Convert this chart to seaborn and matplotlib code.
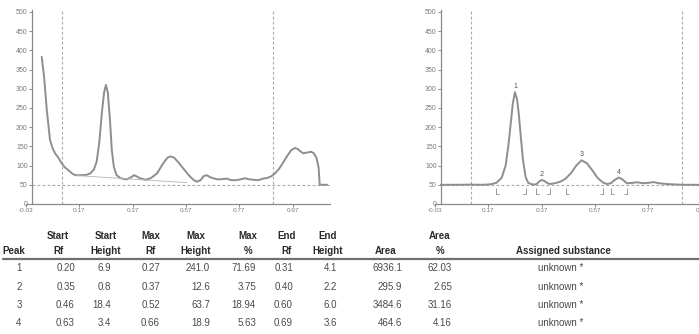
import matplotlib
matplotlib.use("Agg")
import matplotlib.pyplot as plt
import seaborn as sns
from matplotlib.path import Path

# ---- densitogram of the track as scanned (Rf vs. AU) ----
raw_rf = [0.029, 0.038, 0.048, 0.060, 0.070, 0.079, 0.090, 0.104, 0.115, 0.129,
          0.142, 0.154, 0.175, 0.197, 0.212, 0.225, 0.235, 0.245, 0.255, 0.263,
          0.270, 0.277, 0.285, 0.292, 0.300, 0.310, 0.325, 0.348, 0.365, 0.375,
          0.385, 0.398, 0.420, 0.440, 0.462, 0.485, 0.500, 0.511, 0.525, 0.540,
          0.555, 0.570, 0.586, 0.600, 0.611, 0.625, 0.637, 0.649, 0.660, 0.673,
          0.690, 0.710, 0.725, 0.740, 0.760, 0.780, 0.792, 0.810, 0.825, 0.840,
          0.860, 0.876, 0.890, 0.905, 0.920, 0.935, 0.950, 0.965, 0.980, 0.990,
          1.000, 1.010, 1.025, 1.040, 1.050, 1.060, 1.068, 1.072, 1.100]
raw_au = [383, 330, 245, 167, 145, 132, 122, 106, 96, 88,
          80, 75, 75, 76, 80, 90, 110, 160, 240, 290,
          310, 290, 220, 140, 95, 75, 67, 64, 70, 75,
          72, 67, 63, 68, 80, 106, 120, 124, 121, 110,
          97, 84, 71, 62, 58, 62, 73, 75, 70, 67,
          64, 65, 66, 62, 62, 65, 67, 64, 63, 62,
          66, 68, 72, 80, 92, 108, 125, 140, 146, 143,
          137, 132, 134, 136, 132, 120, 95, 50, 50]

# baseline drawn under the main peaks of the raw scan
baseline_rf = [0.16, 0.573]
baseline_au = [74, 55.5]

# ---- baseline-corrected densitogram ----
corr_rf = [-0.008, 0.05, 0.10, 0.15, 0.18, 0.20, 0.22, 0.235, 0.245, 0.255,
           0.262, 0.27, 0.278, 0.285, 0.292, 0.30, 0.31, 0.32, 0.335, 0.35,
           0.36, 0.37, 0.38, 0.39, 0.40, 0.42, 0.44, 0.46, 0.48, 0.50,
           0.52, 0.54, 0.56, 0.58, 0.60, 0.615, 0.63, 0.645, 0.66, 0.675,
           0.69, 0.71, 0.73, 0.75, 0.77, 0.79, 0.81, 0.84, 0.87, 0.90, 1.11]
corr_au = [50, 50, 50.5, 50, 51.5, 55, 68, 100, 150, 215,
           262, 291.0, 272, 230, 175, 115, 70, 55, 51, 51,
           58, 62.6, 60, 55, 52, 54, 58, 66, 80, 100,
           113.7, 106, 88, 68, 56, 52, 54, 63, 68.9, 63,
           54, 55, 56.5, 54, 55, 57, 54, 52, 51, 50, 50]

# ---- peak table ----
peak_no = [1, 2, 3, 4]
start_rf = [0.20, 0.35, 0.46, 0.63]
start_height = [6.9, 0.8, 18.4, 3.4]
max_rf = [0.27, 0.37, 0.52, 0.66]
max_height = [241.0, 12.6, 63.7, 18.9]
max_pct = [71.69, 3.75, 18.94, 5.63]
end_rf = [0.31, 0.40, 0.60, 0.69]
end_height = [4.1, 2.2, 6.0, 3.6]
area = [6936.1, 295.9, 3484.6, 464.6]
area_pct = [62.03, 2.65, 31.16, 4.16]
substance = ["unknown *", "unknown *", "unknown *", "unknown *"]

header_top = ["", "Start", "Start", "Max", "Max", "Max", "End", "End", "", "Area", ""]
header_bottom = ["Peak", "Rf", "Height", "Rf", "Height", "%", "Rf", "Height",
                 "Area", "%", "Assigned substance"]

x_ticks = [-0.03, 0.17, 0.37, 0.57, 0.77, 0.97]
y_ticks = [0, 50, 100, 150, 200, 250, 300, 350, 400, 450, 500]
track_marks = [0.105, 0.895]   # application position and solvent front
base_level = 50

# ---------------------------------------------------------------------------
sns.set_theme(style="white")
plt.rcParams["font.family"] = ["Liberation Sans", "DejaVu Sans"]

W, H = 699, 334
fig = plt.figure(figsize=(W / 100, H / 100), dpi=100)
fig.patch.set_facecolor("white")

curve_col = "#8e8e8e"
dash_col = "#a8a8a8"
axis_col = "#8a8a8a"
tick_col = "#7a7a7a"

X_MIN, X_MAX = -0.03, 1.11
Y_MAX = 505


def make_axes(left_px):
    width_px = (X_MAX - X_MIN) * 266.5
    ax = fig.add_axes([left_px / W, (H - 204) / H, width_px / W, 194 / H])
    ax.set_xlim(X_MIN, X_MAX)
    ax.set_ylim(0, Y_MAX)
    for side in ("top", "right"):
        ax.spines[side].set_visible(False)
    ax.spines["left"].set_position(("data", -0.008))
    for side in ("left", "bottom"):
        ax.spines[side].set_color(axis_col)
        ax.spines[side].set_linewidth(0.9)
    ax.set_xticks(x_ticks)
    ax.set_xticklabels([f"{t:.2f}" for t in x_ticks])
    ax.set_yticks(y_ticks)
    ax.set_yticklabels([str(t) for t in y_ticks])
    ax.tick_params(axis="both", which="major", colors=tick_col,
                   length=2, width=0.6, pad=1, direction="out",
                   bottom=True, left=True)
    ax.tick_params(axis="x", labelsize=4.6)
    ax.tick_params(axis="y", labelsize=5)
    ax.grid(False)
    ax.set_facecolor("none")
    ax.patch.set_alpha(0)
    for xm in track_marks:
        ax.axvline(xm, ymin=0, ymax=1, color=dash_col, lw=0.8, ls=(0, (2.5, 2)))
    ax.axhline(base_level, xmin=0.02, xmax=1, color=dash_col, lw=0.8,
               ls=(0, (2.5, 2)))
    ax.set_xlabel("")
    ax.set_ylabel("")
    return ax


# left: scanned track
ax1 = make_axes(26)
sns.lineplot(x=raw_rf, y=raw_au, ax=ax1, color=curve_col, lw=1.4,
             estimator=None, sort=False)
sns.lineplot(x=baseline_rf, y=baseline_au, ax=ax1, color="#b5b5b5", lw=0.6,
             estimator=None, sort=False)

# right: baseline-corrected track with integrated peaks
ax2 = make_axes(435)
sns.lineplot(x=corr_rf, y=corr_au, ax=ax2, color=curve_col, lw=1.4,
             estimator=None, sort=False)

for n, rf, h in zip(peak_no, max_rf, max_height):
    ax2.text(rf, base_level + h + 5, str(n), ha="center", va="bottom",
             fontsize=5, color="#555555")

start_marker = Path([(0, 1), (0, -1), (0.8, -1)],
                    [Path.MOVETO, Path.LINETO, Path.LINETO])
end_marker = Path([(0, 1), (0, -1), (-0.8, -1)],
                  [Path.MOVETO, Path.LINETO, Path.LINETO])
ax2.plot(start_rf, [base_level - 17] * len(start_rf), ls="none",
         marker=start_marker, markersize=5, markerfacecolor="none",
         markeredgecolor="#8a8a8a", markeredgewidth=0.6)
ax2.plot(end_rf, [base_level - 17] * len(end_rf), ls="none",
         marker=end_marker, markersize=5, markerfacecolor="none",
         markeredgecolor="#8a8a8a", markeredgewidth=0.6)

# ---- peak table below the densitograms ----
head_col = "#2a2a2a"
body_col = "#4a4a4a"
head_x = [14, 58, 106, 151, 196, 248, 287, 328, 386, 440, 563]
body_right = [None, 75, 111, 160, 210, 256, 293, 337, 402, 452, None]
body_center = [19, None, None, None, None, None, None, None, None, None, 561]


def fy(y_px):
    return 1 - y_px / H


for hx, top, bottom in zip(head_x, header_top, header_bottom):
    if top:
        fig.text(hx / W, fy(236), top, ha="center", va="center",
                 fontsize=7, fontweight="bold", color=head_col)
    fig.text(hx / W, fy(251), bottom, ha="center", va="center",
             fontsize=7, fontweight="bold", color=head_col)

fig.add_artist(plt.Line2D([3 / W, 1.0], [fy(258.5), fy(258.5)],
                          color="#707070", lw=1.6, transform=fig.transFigure))

row_y = [268, 286.5, 305, 323.5]
columns = [
    [str(v) for v in peak_no],
    [f"{v:.2f}" for v in start_rf],
    [f"{v:.1f}" for v in start_height],
    [f"{v:.2f}" for v in max_rf],
    [f"{v:.1f}" for v in max_height],
    [f"{v:.2f}" for v in max_pct],
    [f"{v:.2f}" for v in end_rf],
    [f"{v:.1f}" for v in end_height],
    [f"{v:.1f}" for v in area],
    [f"{v:.2f}" for v in area_pct],
    substance,
]
for ci, col in enumerate(columns):
    for ri, txt in enumerate(col):
        if body_right[ci] is None:
            fig.text(body_center[ci] / W, fy(row_y[ri]), txt, ha="center",
                     va="center", fontsize=7, color=body_col)
        else:
            fig.text(body_right[ci] / W, fy(row_y[ri]), txt, ha="right",
                     va="center", fontsize=7, color=body_col)

fig.savefig("out.png", dpi=100, facecolor="white")
